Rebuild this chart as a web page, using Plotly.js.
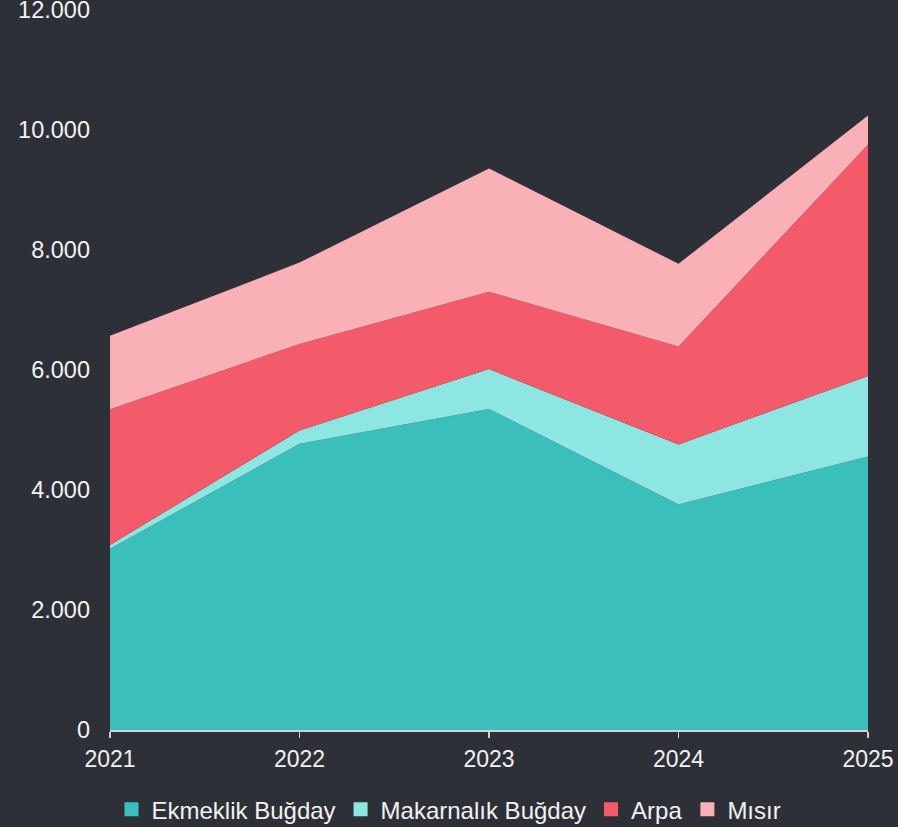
<!DOCTYPE html>
<html>
<head>
<meta charset="utf-8">
<script src="https://cdn.plot.ly/plotly-3.0.1.min.js"></script>
<style>html,body{margin:0;padding:0;background:#2e3038;}#chart{width:898px;height:827px;}</style>
</head>
<body>
<div id="chart"></div>
<script>
const years = ['2021', '2022', '2023', '2024', '2025'];
const ekmeklik = [3020, 4770, 5350, 3760, 4560];
const makarnalik = [65, 220, 665, 1000, 1340];
const arpa = [2260, 1445, 1290, 1630, 3860];
const misir = [1225, 1355, 2055, 1380, 480];
const seriesNames = ['Ekmeklik Buğday', 'Makarnalık Buğday', 'Arpa', 'Mısır'];
const seriesColors = ['#3abfba', '#8ee6e2', '#f35b6a', '#f9b1b7'];
const yTicks = [0, 2000, 4000, 6000, 8000, 10000, 12000];

const seriesValues = [ekmeklik, makarnalik, arpa, misir];
const traces = [];
seriesValues.forEach((vals, i) => {
  traces.push({
    type: 'scatter', mode: 'none', x: years, y: vals,
    stackgroup: 'one', fillcolor: seriesColors[i], name: seriesNames[i],
    showlegend: false, hoverinfo: 'x+y+name'
  });
});
seriesValues.forEach((vals, i) => {
  traces.push({
    type: 'scatter', mode: 'markers', x: [null], y: [null],
    marker: {symbol: 'square', size: 14, color: seriesColors[i]},
    name: seriesNames[i], showlegend: true
  });
});

const layout = {
  width: 898, height: 827,
  paper_bgcolor: '#2e3038', plot_bgcolor: '#2e3038',
  margin: {l: 110, r: 30, t: 10, b: 97},
  separators: ',.',
  font: {family: '"Liberation Sans", Arial, sans-serif', size: 22, color: '#f2f2f2'},
  showlegend: true,
  legend: {orientation: 'h', x: 0.5, xref: 'container', xanchor: 'center',
    y: 0.021, yref: 'container', yanchor: 'middle',
    font: {size: 24, color: '#f2f2f2'}, itemwidth: 30, traceorder: 'normal',
    bgcolor: 'rgba(0,0,0,0)'},
  xaxis: {
    type: 'category', range: [0, 4], showgrid: false, zeroline: false,
    showline: true, linecolor: '#d0d0d0', linewidth: 1.5,
    ticks: 'outside', ticklen: 6, tickcolor: '#d0d0d0', tickwidth: 1.5,
    tickfont: {size: 23}, ticklabelstandoff: 2, automargin: false, fixedrange: true
  },
  yaxis: {
    range: [0, 12000], tickvals: yTicks, tickformat: ',d',
    showgrid: false, zeroline: false, showline: false,
    ticks: '', tickfont: {size: 23.5}, ticklabelstandoff: 19,
    ticklabeloverflow: 'allow', automargin: false, fixedrange: true
  }
};

Plotly.newPlot('chart', traces, layout, {displayModeBar: false, staticPlot: true});
</script>
</body>
</html>
